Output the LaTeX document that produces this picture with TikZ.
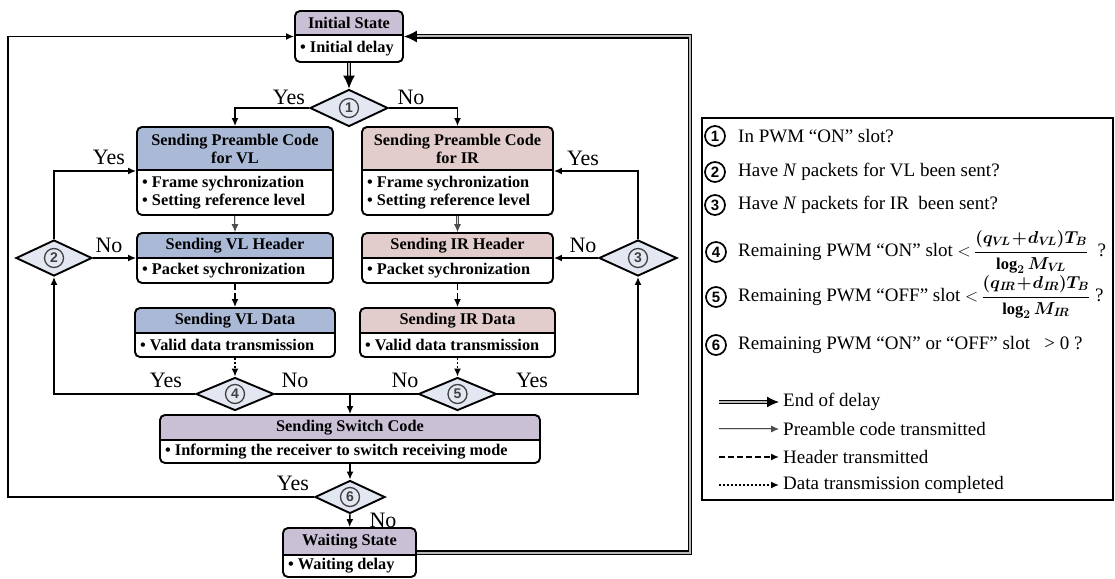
\documentclass[tikz,border=0pt]{standalone}
\usepackage{fontspec}
\setmainfont{Liberation Serif}
\newfontfamily\numfont{Liberation Sans}
\usetikzlibrary{arrows.meta,shapes.geometric,calc}

\definecolor{vlc}{HTML}{A9B9D6}
\definecolor{irc}{HTML}{E2CCCC}
\definecolor{stc}{HTML}{CAC0D6}
\definecolor{dmc}{HTML}{E3E7F1}

\tikzset{
  boxnode/.style={draw=none, inner sep=0pt, outer sep=0.9pt},
  boxline/.style={line width=1.9pt},
  hdrtext/.style={font=\bfseries\fontsize{16.3}{18}\selectfont, align=center, inner sep=0pt},
  bodytext/.style={font=\bfseries\fontsize{16.3}{18}\selectfont, align=left, anchor=west, inner sep=0pt},
  dia/.style={diamond, draw, line width=1.9pt, fill=dmc, inner sep=0pt},
  dnum/.style={circle, draw=black!75, line width=1.3pt, minimum size=19pt, inner sep=0pt, text=black!75, font=\numfont\bfseries\fontsize{14}{14}\selectfont},
  lnum/.style={circle, draw, line width=1.7pt, minimum size=20pt, inner sep=0pt, font=\numfont\bfseries\fontsize{15}{15}\selectfont},
  conn/.style={line width=1.5pt, -{Latex[length=8pt,width=7pt]}},
  plain/.style={line width=1.5pt},
  eod/.style={double=gray!55, double distance=2pt, line width=1.3pt, -{Latex[length=13pt,width=12pt]}},
  pre/.style={draw=black!70, double=gray!30, double distance=1pt, line width=0.9pt, -{Latex[length=8pt,width=7pt]}},
  hdr/.style={line width=1.5pt, dash pattern=on 6pt off 3pt, -{Latex[length=8pt,width=7pt]}},
  dat/.style={line width=1.5pt, dash pattern=on 2pt off 2pt, -{Latex[length=8pt,width=7pt]}},
  lab/.style={font=\fontsize{22}{22}\selectfont, inner sep=0pt},
  ltext/.style={anchor=west, font=\fontsize{19}{22}\selectfont, inner sep=0pt},
}

% name, x1, y1, x2, ydiv, y2, colour, header, body
\newcommand\stbox[9]{%
  \node[boxnode, minimum width={(#4-#2)*1pt}, minimum height={(#6-#3)*1pt}] (#1) at ({(#2+#4)/2},{(#3+#6)/2}) {};
  \fill[white, rounded corners=5pt] (#2,#3) rectangle (#4,#6);
  \begin{scope}
    \clip[rounded corners=5pt] (#2,#3) rectangle (#4,#6);
    \fill[#7] (#2,#3) rectangle (#4,#5);
  \end{scope}
  \draw[boxline, rounded corners=5pt] (#2,#3) rectangle (#4,#6);
  \draw[boxline] (#2,#5) -- (#4,#5);
  \node[hdrtext] at ({(#2+#4)/2},{(#3+#5)/2}) {#8};
  \node[bodytext] at ({#2+5},{(#5+#6)/2}) {#9};
}
\newcommand\fracsz{\fontsize{16.5}{17}\selectfont\boldmath}

\begin{document}
\begin{tikzpicture}[x=1pt,y=-1pt]
\useasboundingbox (0,0) rectangle (1115,578);

% boxes
\stbox{init}{295}{11}{403}{35}{62}{stc}{Initial State}{\textbullet\ Initial delay}
\stbox{vlp}{137}{127}{333}{170}{215}{vlc}{Sending Preamble Code\\for VL}{\textbullet\ Frame sychronization\\\textbullet\ Setting reference level}
\stbox{irp}{362}{127}{553}{170}{215}{irc}{Sending Preamble Code\\for IR}{\textbullet\ Frame sychronization\\\textbullet\ Setting reference level}
\stbox{vlh}{137}{233}{333}{258}{283}{vlc}{Sending VL Header}{\textbullet\ Packet sychronization}
\stbox{irh}{362}{233}{553}{258}{283}{irc}{Sending IR Header}{\textbullet\ Packet sychronization}
\stbox{vld}{135}{308}{335}{333}{357}{vlc}{Sending VL Data}{\textbullet\ Valid data transmission}
\stbox{ird}{360}{308}{555}{333}{357}{irc}{Sending IR Data}{\textbullet\ Valid data transmission}
\stbox{sw}{160}{415}{540}{440}{463}{stc}{Sending Switch Code}{\textbullet\ Informing the receiver to switch receiving mode}
\stbox{wt}{283}{528}{416}{555}{577}{stc}{Waiting State}{\textbullet\ Waiting delay}

% diamonds
\node[dia, minimum width=78pt, minimum height=37pt] (d1) at (349,108) {};
\node[dia, minimum width=76pt, minimum height=36pt] (d2) at (54,258) {};
\node[dia, minimum width=78pt, minimum height=36pt] (d3) at (638,258) {};
\node[dia, minimum width=78pt, minimum height=33pt] (d4) at (235,394) {};
\node[dia, minimum width=78pt, minimum height=33pt] (d5) at (457.5,394) {};
\node[dia, minimum width=70pt, minimum height=33pt] (d6) at (350,497) {};
\node[dnum] (n1) at (d1) {1};
\node[dnum] (n2) at (d2) {2};
\node[dnum] (n3) at (d3) {3};
\node[dnum] (n4) at (d4) {4};
\node[dnum] (n5) at (d5) {5};
\node[dnum] (n6) at (d6) {6};

% helper coordinates
\coordinate (lft) at (8,0);
\coordinate (rgt) at (690,0);

% connectors
\draw[eod] (init.south) -- (d1.north);
\draw[conn] (d1.west) -| (vlp.north);
\draw[conn] (d1.east) -| (irp.north);
\draw[pre] (vlp.south) -- (vlh.north);
\draw[pre] (irp.south) -- (irh.north);
\draw[hdr] (vlh.south) -- (vld.north);
\draw[hdr] (irh.south) -- (ird.north);
\draw[dat] (vld.south) -- (d4.north);
\draw[dat] (ird.south) -- (d5.north);
\draw[conn] (d4.west) -| (d2.south);
\draw[conn] (d2.north) |- (vlp.west);
\draw[conn] (d2.east) -- (vlh.west);
\draw[conn] (d5.east) -| (d3.south);
\draw[conn] (d3.north) |- (irp.east);
\draw[conn] (d3.west) -- (irh.east);
\draw[plain] (d4.east) -- (d5.west);
\draw[conn] (sw.north |- d4.east) -- (sw.north);
\draw[conn] (sw.south) -- (d6.north);
\draw[conn] (d6.south) -- (wt.north);
\draw[conn] (d6.west) -- (d6.west -| lft) -- (init.west -| lft) -- (init.west);
\draw[eod] (wt.east) -- (wt.east -| rgt) -- (init.east -| rgt) -- (init.east);

% labels
\node[lab] (y1) at (289,97) {Yes};
\node[lab] (o1) at (411,97) {No};
\node[lab] (y2) at (109,157) {Yes};
\node[lab] (o2) at (109,245) {No};
\node[lab] (y3) at (583,158) {Yes};
\node[lab] (o3) at (583,245) {No};
\node[lab] (y4) at (166,380) {Yes};
\node[lab] (o4) at (295,380) {No};
\node[lab] (o5) at (405,380) {No};
\node[lab] (y5) at (532,380) {Yes};
\node[lab] (y6) at (293,483) {Yes};
\node[lab] (o6) at (383,520) {No};

% legend
\draw[line width=1.2pt] (702,118) rectangle (1113,500);
\node[lnum] (l1) at (715,136) {1};
\node[ltext] at (738,136) {In PWM “ON” slot?};
\node[lnum] (l2) at (715,172) {2};
\node[ltext] at (738,172) {Have \textit{N} packets for VL been sent?};
\node[lnum] (l3) at (715,205) {3};
\node[ltext] at (738,205) {Have \textit{N} packets for IR\ \ been sent?};
\node[lnum] (l4) at (716,252) {4};
\node[ltext] at (738,252) {Remaining PWM “ON” slot\ $<$\,{\fracsz$\displaystyle\frac{(q_{V\!L}\!+\!d_{V\!L})T_B}{\log_2 M_{V\!L}}$}\ \ ?};
\node[lnum] (l5) at (716,297) {5};
\node[ltext] at (738,297) {Remaining PWM “OFF” slot\ $<$\,{\fracsz$\displaystyle\frac{(q_{I\!R}\!+\!d_{I\!R})T_B}{\log_2 M_{I\!R}}$}\ ?};
\node[lnum] (l6) at (716,345) {6};
\node[ltext] at (738,345) {Remaining PWM “ON” or “OFF” slot\ \ \ > 0 ?};

\coordinate (a1) at (719,402); \coordinate (b1) at (779,402);
\coordinate (a2) at (719,429); \coordinate (b2) at (779,429);
\coordinate (a3) at (719,457); \coordinate (b3) at (779,457);
\coordinate (a4) at (719,485); \coordinate (b4) at (779,485);
\draw[eod, -{Latex[length=12pt,width=11pt]}] (a1) -- (b1);
\draw[pre] (a2) -- (b2);
\draw[hdr] (a3) -- (b3);
\draw[dat] (a4) -- (b4);
\node[ltext] at (783,402) {End of delay};
\node[ltext] at (783,429) {Preamble code transmitted};
\node[ltext] at (783,457) {Header transmitted};
\node[ltext] at (783,485) {Data transmission completed};
\end{tikzpicture}
\end{document}
